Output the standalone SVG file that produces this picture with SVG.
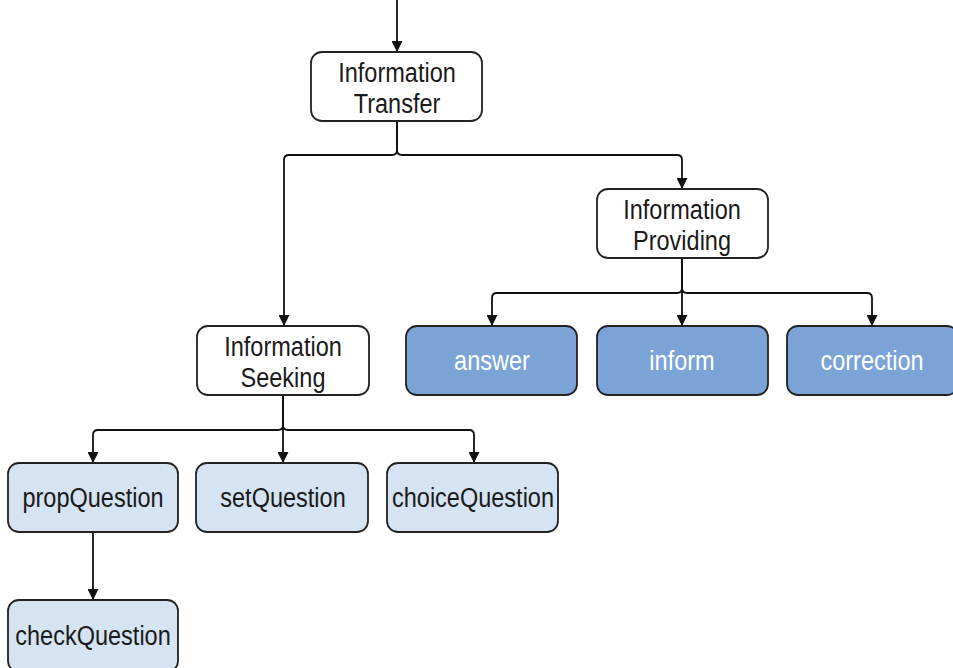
<svg xmlns="http://www.w3.org/2000/svg" width="953" height="668" viewBox="0 0 953 668">
<defs>
<marker id="ah" viewBox="0 0 10 10" refX="10" refY="5" markerWidth="11" markerHeight="11" markerUnits="userSpaceOnUse" orient="auto">
<path d="M0,0 L10,5 L0,10 z" fill="#111"/>
</marker>
<style>
.box{stroke:#222;stroke-width:1.8}
.w{fill:#ffffff}
.d{fill:#7ba3d6}
.l{fill:#d6e3f2}
.t{font-family:"Liberation Sans",Arial,sans-serif;font-size:28px;text-anchor:middle;fill:#1a1a1a}
.tw{fill:#ffffff}
.c{fill:none;stroke:#111;stroke-width:1.8;marker-end:url(#ah)}
</style>
</defs>
<rect width="953" height="668" fill="#ffffff"/>
<g id="connectors">
<path class="c" d="M397,0 V52"/>
<path class="c" d="M397,121 V150 Q397,155 392,155 H289 Q284,155 284,160 V326"/>
<path class="c" d="M397,121 V150 Q397,155 402,155 H677 Q682,155 682,160 V189"/>
<path class="c" d="M682,258 V288 Q682,293 677,293 H497 Q492,293 492,298 V326"/>
<path class="c" d="M682,258 V326"/>
<path class="c" d="M682,258 V288 Q682,293 687,293 H867 Q872,293 872,298 V326"/>
<path class="c" d="M283,395 V425 Q283,430 278,430 H98 Q93,430 93,435 V463"/>
<path class="c" d="M283,395 V463"/>
<path class="c" d="M283,395 V425 Q283,430 288,430 H469 Q474,430 474,435 V463"/>
<path class="c" d="M93,532 V600"/>
</g>
<g id="n-transfer">
<rect class="box w" x="311" y="52" width="171" height="69" rx="11"/>
<text class="t" transform="matrix(0.84 0 0 1 397 82)">Information</text>
<text class="t" transform="matrix(0.84 0 0 1 397 113)">Transfer</text>
</g>
<g id="n-providing">
<rect class="box w" x="597" y="189" width="171" height="69" rx="11"/>
<text class="t" transform="matrix(0.84 0 0 1 682 219)">Information</text>
<text class="t" transform="matrix(0.84 0 0 1 682 250)">Providing</text>
</g>
<g id="n-seeking">
<rect class="box w" x="197" y="326" width="172" height="69" rx="11"/>
<text class="t" transform="matrix(0.84 0 0 1 283 356)">Information</text>
<text class="t" transform="matrix(0.84 0 0 1 283 387)">Seeking</text>
</g>
<g id="n-answer">
<rect class="box d" x="406" y="326" width="171" height="69" rx="11"/>
<text class="t tw" transform="matrix(0.84 0 0 1 492 370)">answer</text>
</g>
<g id="n-inform">
<rect class="box d" x="597" y="326" width="171" height="69" rx="11"/>
<text class="t tw" transform="matrix(0.84 0 0 1 682 370)">inform</text>
</g>
<g id="n-correction">
<rect class="box d" x="787" y="326" width="171" height="69" rx="11"/>
<text class="t tw" transform="matrix(0.84 0 0 1 872 370)">correction</text>
</g>
<g id="n-prop">
<rect class="box l" x="8" y="463" width="170" height="69" rx="11"/>
<text class="t" transform="matrix(0.84 0 0 1 93 507)">propQuestion</text>
</g>
<g id="n-set">
<rect class="box l" x="196" y="463" width="172" height="69" rx="11"/>
<text class="t" transform="matrix(0.84 0 0 1 283 507)">setQuestion</text>
</g>
<g id="n-choice">
<rect class="box l" x="387" y="463" width="171" height="69" rx="11"/>
<text class="t" transform="matrix(0.84 0 0 1 473 507)">choiceQuestion</text>
</g>
<g id="n-check">
<rect class="box l" x="8" y="600" width="170" height="72" rx="11"/>
<text class="t" transform="matrix(0.84 0 0 1 93 645)">checkQuestion</text>
</g>
</svg>
